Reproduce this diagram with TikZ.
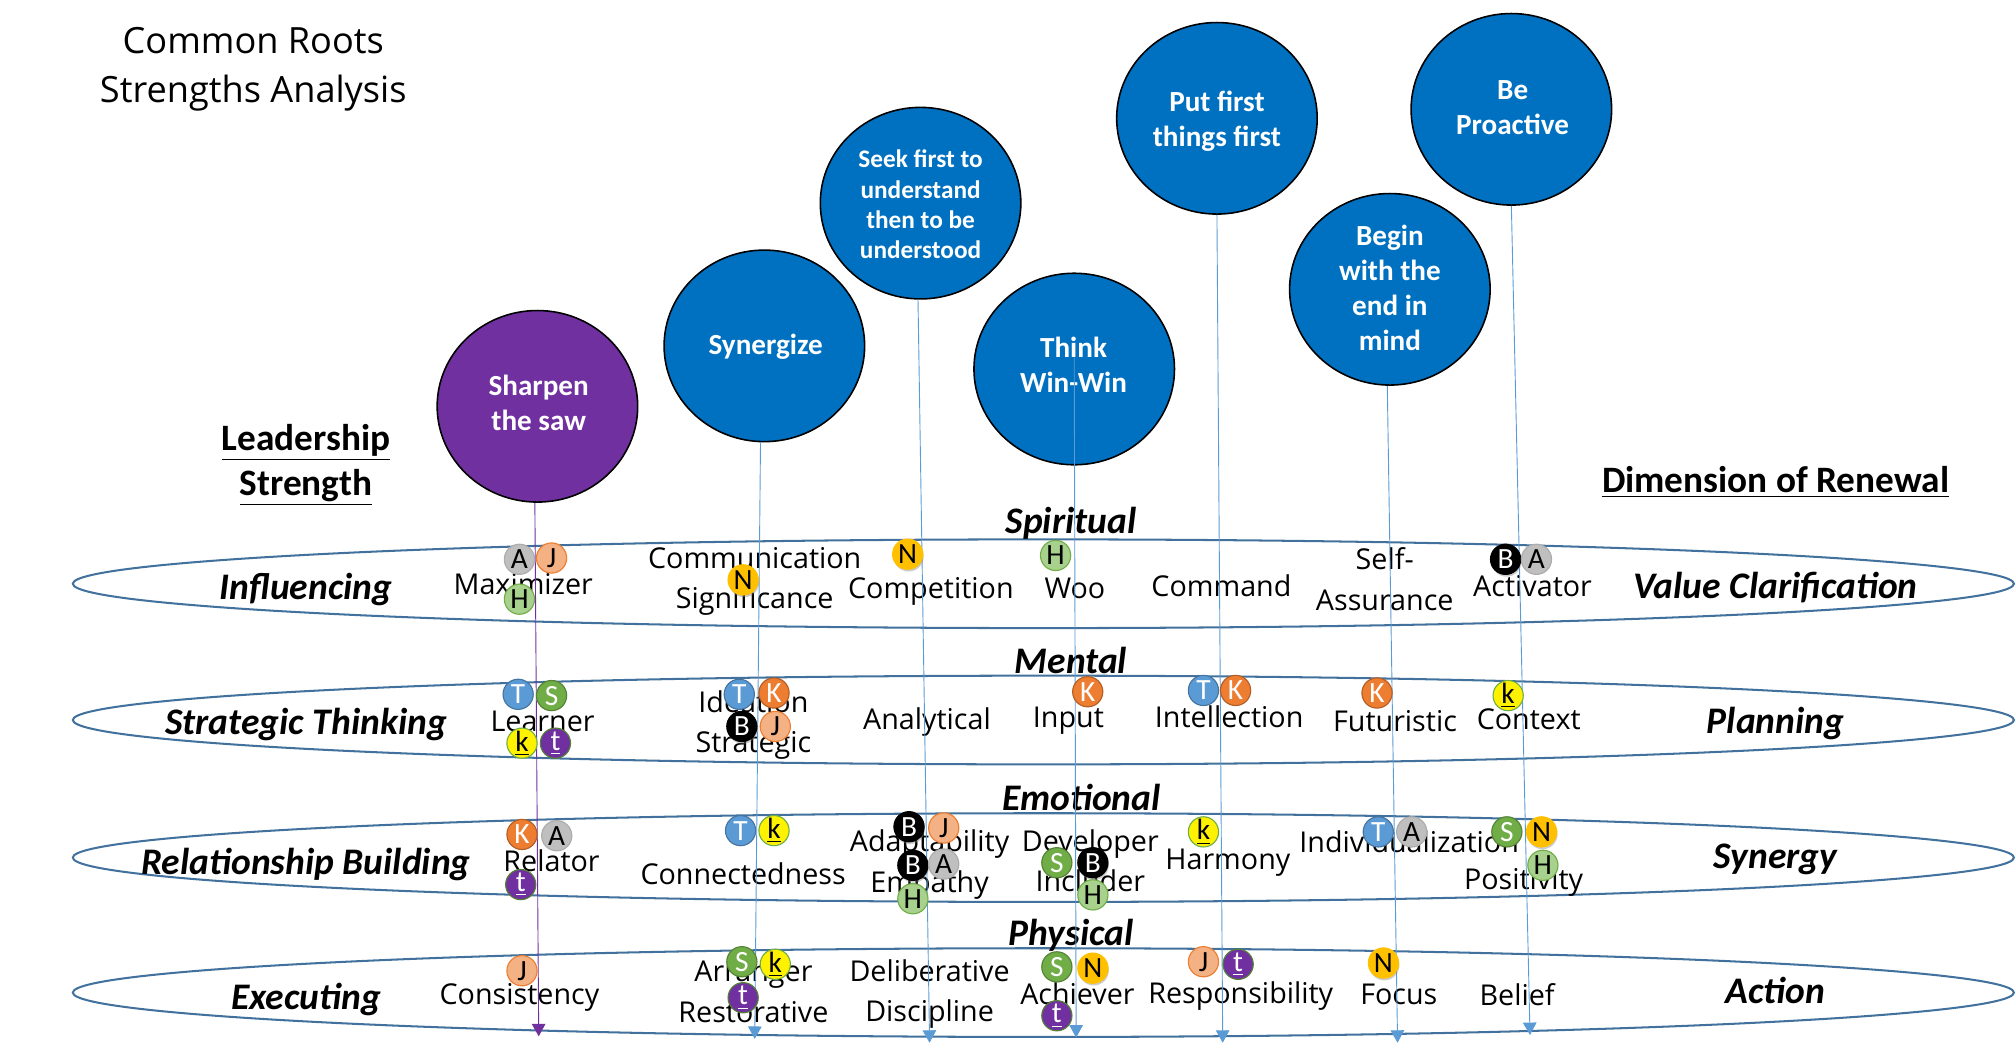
\documentclass[tikz,border=0pt]{standalone}
\usepackage{fontspec}
\setmainfont{Open Sans}
\newfontfamily\calibri{Carlito}
\usetikzlibrary{arrows.meta,shapes.geometric,shadows}
\definecolor{bandline}{HTML}{41719C}
\definecolor{habitblue}{HTML}{0070C0}
\definecolor{habitpurple}{HTML}{7030A0}
\definecolor{arrowblue}{HTML}{5B9BD5}
\definecolor{sgreen}{HTML}{70AD47}
\definecolor{korange}{HTML}{ED7D31}
\definecolor{agrey}{HTML}{BFBFBF}
\definecolor{jsalmon}{HTML}{F4B183}
\definecolor{hgreen}{HTML}{A9D18E}
\definecolor{ngold}{HTML}{FFC000}
\begin{document}
\begin{tikzpicture}[
  x=0.02cm, y=-0.02cm,
  band/.style={ellipse, draw=bandline, line width=0.9pt, minimum width=30.2cm, minimum height=1.38cm, inner sep=0pt},
  habit/.style={ellipse, draw=black, line width=0.7pt, fill=habitblue, minimum width=3.12cm, minimum height=2.98cm, inner sep=0pt},
  renew/.style={habit, fill=habitpurple},
  habitText/.style={inner sep=0pt, align=center, text=white, font=\calibri\bfseries\fontsize{12.9}{15.5}\selectfont},
  flow/.style={draw=arrowblue, line width=0.4pt, -{Triangle[length=5.5pt,width=6pt]}},
  flowP/.style={flow, draw=habitpurple},
  term/.style={inner sep=0pt, text height=10pt, text depth=3pt, font=\fontsize{12.7}{15}\selectfont},
  head/.style={inner sep=0pt, text height=11pt, text depth=4pt, font=\calibri\bfseries\itshape\fontsize{16.6}{19}\selectfont},
  under/.style={inner sep=0pt, text height=11pt, text depth=4pt, font=\calibri\bfseries\fontsize{16.5}{19}\selectfont},
  badge/.style={circle, minimum size=0.47cm, inner sep=0pt, line width=0.5pt, font=\calibri\fontsize{13}{13}\selectfont},
  badgeT/.style={badge, fill=arrowblue, draw=arrowblue!75!black, text=white},
  badgeS/.style={badge, fill=sgreen, draw=sgreen!75!black, text=white},
  badgeK/.style={badge, fill=korange, draw=korange!75!black, text=white},
  badgeA/.style={badge, fill=agrey, draw=agrey!90!black},
  badgeJ/.style={badge, fill=jsalmon, draw=korange},
  badgeH/.style={badge, fill=hgreen, draw=sgreen},
  badgeN/.style={badge, fill=ngold, draw=ngold, drop shadow={shadow xshift=0.4pt, shadow yshift=-1pt, opacity=.4}},
  badgeB/.style={badge, fill=black, draw=black, text=white, drop shadow={shadow xshift=0.4pt, shadow yshift=-1pt, opacity=.4}},
  badgeLk/.style={badge, fill=yellow, draw=sgreen},
  badgeLt/.style={badge, fill=habitpurple, draw=sgreen!75!black, text=white}
]
\useasboundingbox (0,0) rectangle (1568,823);

% title and side headings
\node[inner sep=0pt, align=center, font=\fontsize{16}{21.6}\selectfont] (title) at (197,54) {Common Roots\\Strengths Analysis};
\node[under] (leader) at (238,344) {\underline{Leadership}};
\node[under] (strength) at (238,379) {\underline{Strength}};
\node[under] (dimension) at (1381,377) {\underline{Dimension of Renewal}};

% bands
\node[band] (bandA) at (811.5,454) {};
\node[band] (bandB) at (811.5,560) {};
\node[band] (bandC) at (811.5,667) {};
\node[band] (bandD) at (811.5,772) {};

% habits
\node[renew] (saw) at (418,316) {};
\node[habit] (synergize) at (594.5,269) {};
\node[habit] (seek) at (716,158) {};
\node[habit] (winwin) at (835.5,287) {};
\node[habit] (first) at (946.5,92) {};
\node[habit] (begin) at (1081,225) {};
\node[habit] (proactive) at (1175.5,85) {};

% habit names
\node[habitText] (sawText) at (419,313) {Sharpen\\the saw};
\node[habitText] (synergizeText) at (595.5,270) {Synergize};
\node[habitText, font=\calibri\bfseries\fontsize{11.2}{13.4}\selectfont] (seekText) at (716,159) {Seek first to\\understand\\then to be\\understood};
\node[habitText] (winwinText) at (835,284) {Think\\Win-Win};
\node[habitText] (firstText) at (946.5,94) {Put first\\things first};
\node[habitText] (beginText) at (1081,224) {Begin\\with the\\end in\\mind};
\node[habitText] (proactiveText) at (1176.5,84) {Be\\Proactive};

% arrow ends
\coordinate (sawEnd) at (419,806);
\coordinate (synergizeEnd) at (587,808);
\coordinate (seekEnd) at (723,811);
\coordinate (winwinEnd) at (837,807);
\coordinate (firstEnd) at (951,811);
\coordinate (beginEnd) at (1087,811);
\coordinate (proactiveEnd) at (1190,805);

% band and dimension names
\node[head] (influencing) at (238,460) {Influencing};
\node[head] (thinking) at (238,565) {Strategic Thinking};
\node[head] (relationship) at (238,674) {Relationship Building};
\node[head] (executing) at (238,779) {Executing};
\node[head] (value) at (1381,459) {Value Clarification};
\node[head] (planning) at (1381,564) {Planning};
\node[head] (synergy) at (1381,669) {Synergy};
\node[head] (action) at (1381,774) {Action};
\node[head] (spiritual) at (833,409) {Spiritual};
\node[head] (mental) at (833,518) {Mental};
\node[head] (emotional) at (841,624) {Emotional};
\node[head] (physical) at (833,729) {Physical};

% strengths: influencing
\node[term] (maximizer) at (407,456) {Maximizer};
\node[term] (communication) at (587,436) {Communication};
\node[term] (significance) at (587,467) {Significance};
\node[term] (competition) at (724,459) {Competition};
\node[term] (woo) at (836,459) {Woo};
\node[term] (command) at (950,458) {Command};
\node[term] (self) at (1077,437) {Self-};
\node[term] (assurance) at (1077,469) {Assurance};
\node[term] (activator) at (1192,458) {Activator};

% strengths: strategic thinking
\node[term] (learner) at (422,563) {Learner};
\node[term] (ideation) at (586,548) {Ideation};
\node[term] (strategic) at (586,579) {Strategic};
\node[term] (analytical) at (721,561) {Analytical};
\node[term] (input) at (831,560) {Input};
\node[term] (intellection) at (956,560) {Intellection};
\node[term] (futuristic) at (1085,563) {Futuristic};
\node[term] (context) at (1189,561) {Context};

% strengths: relationship building
\node[term] (relator) at (429,672) {Relator};
\node[term] (connectedness) at (578,682) {Connectedness};
\node[term] (adaptability) at (723,656) {Adaptability};
\node[term] (empathy) at (723,688) {Empathy};
\node[term] (developer) at (848,656) {Developer};
\node[term] (includer) at (848,687) {Includer};
\node[term] (harmony) at (955,670) {Harmony};
\node[term] (individualization) at (1096,657) {Individualization};
\node[term] (positivity) at (1185,686) {Positivity};

% strengths: executing
\node[term] (consistency) at (404,775) {Consistency};
\node[term] (arranger) at (586,757) {Arranger};
\node[term] (restorative) at (586,789) {Restorative};
\node[term] (deliberative) at (723,757) {Deliberative};
\node[term] (discipline) at (723,788) {Discipline};
\node[term] (achiever) at (838,775) {Achiever};
\node[term] (responsibility) at (965,774) {Responsibility};
\node[term] (focus) at (1088,775) {Focus};
\node[term] (belief) at (1180,776) {Belief};

% arrows
\draw[flowP] ([xshift=-0.04cm]saw.south) -- (sawEnd);
\draw[flow] ([xshift=-0.06cm]synergize.south) -- (synergizeEnd);
\draw[flow] ([xshift=-0.04cm]seek.south) -- (seekEnd);
\draw[flow] ([yshift=1.68cm]winwin.south) -- (winwinEnd);
\draw[flow] (first.south) -- (firstEnd);
\draw[flow] ([xshift=-0.04cm]begin.south) -- (beginEnd);
\draw[flow] (proactive.south) -- (proactiveEnd);

% badges: influencing
\node[badgeA] (a1) at (404,435) {A};
\node[badgeJ] (a2) at (429,434) {J};
\node[badgeH] (a3) at (404,466) {H};
\node[badgeN] (a4) at (578,451) {N};
\node[badgeN] (a5) at (706,431) {N};
\node[badgeH] (a6) at (821,432) {H};
\node[badgeB] (a7) at (1171,435) {B};
\node[badgeA] (a8) at (1195,435) {A};

% badges: strategic thinking
\node[badgeT] (b1) at (403,540) {T};
\node[badgeS] (b2) at (429,541) {S};
\node[badgeLk] (b3) at (406,578) {\underline{k}};
\node[badgeLt] (b4) at (432,578) {\underline{t}};
\node[badgeT] (b5) at (575,540) {T};
\node[badgeK] (b6) at (602,539) {K};
\node[badgeB] (b7) at (577,565) {B};
\node[badgeJ] (b8) at (603,565) {J};
\node[badgeK] (b9) at (846,538) {K};
\node[badgeT] (b10) at (936,537) {T};
\node[badgeK] (b11) at (961,537) {K};
\node[badgeK] (b12) at (1071,539) {K};
\node[badgeLk] (b13) at (1173,541) {\underline{k}};

% badges: relationship building
\node[badgeK] (c1) at (406,649) {K};
\node[badgeA] (c2) at (433,650) {A};
\node[badgeLt] (c3) at (405,688) {\underline{t}};
\node[badgeT] (c4) at (576,646) {T};
\node[badgeLk] (c5) at (602,646) {\underline{k}};
\node[badgeB] (c6) at (707,643) {B};
\node[badgeJ] (c7) at (734,644) {J};
\node[badgeB] (c8) at (710,673) {B};
\node[badgeA] (c9) at (734,672) {A};
\node[badgeH] (c10) at (710,699) {H};
\node[badgeS] (c11) at (822,671) {S};
\node[badgeB] (c12) at (850,671) {B};
\node[badgeH] (c13) at (850,696) {H};
\node[badgeLk] (c14) at (936,647) {\underline{k}};
\node[badgeT] (c15) at (1072,647) {T};
\node[badgeA] (c16) at (1098,647) {A};
\node[badgeS] (c17) at (1172,647) {S};
\node[badgeN] (c18) at (1199,647) {N};
\node[badgeH] (c19) at (1200,673) {H};

% badges: executing
\node[badgeJ] (d1) at (406,755) {J};
\node[badgeS] (d2) at (577,748) {S};
\node[badgeLk] (d3) at (603,750) {\underline{k}};
\node[badgeLt] (d4) at (578,776) {\underline{t}};
\node[badgeS] (d5) at (822,752) {S};
\node[badgeN] (d6) at (850,753) {N};
\node[badgeLt] (d7) at (822,790) {\underline{t}};
\node[badgeJ] (d8) at (936,748) {J};
\node[badgeLt] (d9) at (963,750) {\underline{t}};
\node[badgeN] (d10) at (1076,749) {N};

\end{tikzpicture}
\end{document}
